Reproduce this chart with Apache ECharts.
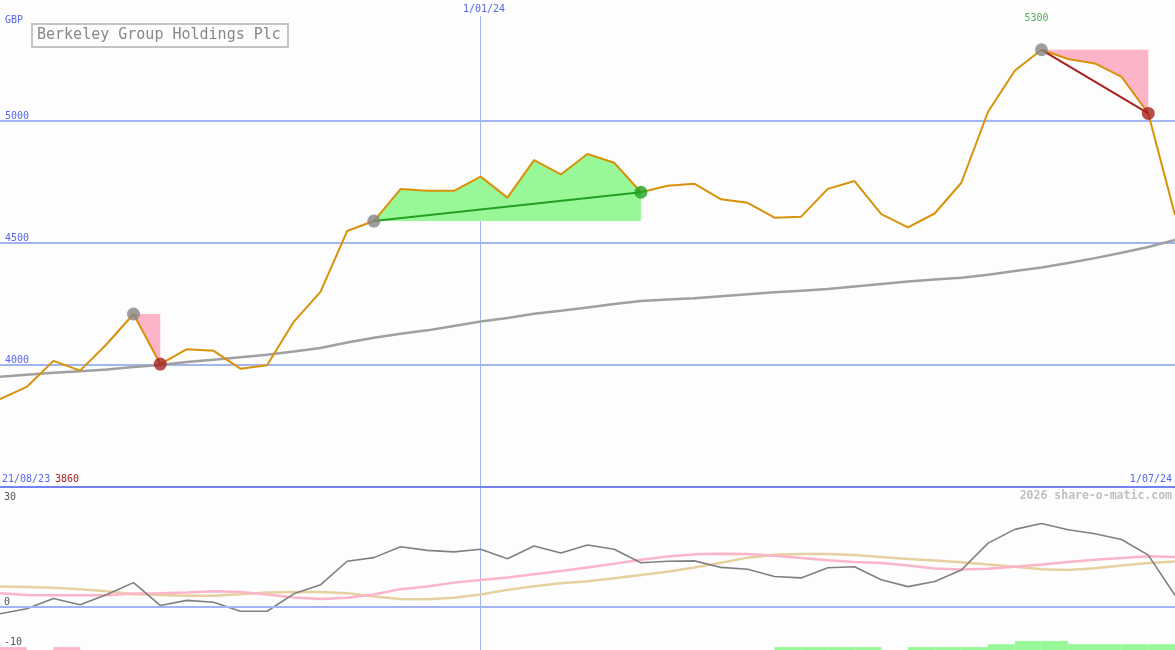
<!DOCTYPE html>
<html>
<head>
<meta charset="utf-8">
<script src="https://cdn.jsdelivr.net/npm/echarts@6/dist/echarts.min.js"></script>
<style>
html,body{margin:0;padding:0;background:#fcfdfc;}
#chart{width:1175px;height:650px;}
</style>
</head>
<body>
<div id="chart"></div>
<script>
const titleText = 'Berkeley Group Holdings Plc';
const currencyLabel = 'GBP';
const startLabel = '21/08/23';
const lowLabel = '3860';
const highLabel = '5300';
const watermark = '2026 share-o-matic.com';

const categories = ['28/08/23','4/09/23','11/09/23','18/09/23','25/09/23','2/10/23','9/10/23','16/10/23','23/10/23','30/10/23',
  '6/11/23','13/11/23','20/11/23','27/11/23','4/12/23','11/12/23','18/12/23','25/12/23','1/01/24','8/01/24',
  '15/01/24','22/01/24','29/01/24','5/02/24','12/02/24','19/02/24','26/02/24','4/03/24','11/03/24','18/03/24',
  '25/03/24','1/04/24','8/04/24','15/04/24','22/04/24','29/04/24','6/05/24','13/05/24','20/05/24','27/05/24',
  '3/06/24','10/06/24','17/06/24','24/06/24','1/07/24'];

const price = [3860,3910,4017,3977,4086,4209,4004,4065,4058,3985,
  3999,4177,4300,4549,4590,4721,4714,4714,4772,4686,
  4840,4781,4865,4829,4708,4735,4743,4679,4665,4604,
  4608,4722,4754,4618,4564,4621,4747,5038,5206,5292,
  5254,5236,5181,5031,4615];

const movingAvg = [3952,3960,3968,3974,3982,3992,4000,4012,4022,4032,
  4042,4055,4070,4092,4112,4128,4142,4160,4178,4193,
  4210,4222,4236,4250,4262,4268,4274,4282,4290,4298,
  4304,4312,4322,4332,4342,4350,4358,4370,4385,4400,
  4418,4438,4460,4484,4512];

const momentum = [-2.0,-0.6,2.2,0.5,3.3,6.6,0.3,1.7,1.2,-1.3,
  -1.3,3.5,6.0,12.5,13.5,16.5,15.5,15.1,15.8,13.2,
  16.7,14.8,17.0,15.8,12.1,12.5,12.6,10.8,10.3,8.3,
  7.9,10.7,11.0,7.4,5.5,6.9,10.1,17.5,21.3,22.9,
  21.2,20.1,18.5,14.2,3.1];

const signalPink = [3.7,3.2,3.1,3.1,3.1,3.6,3.7,3.9,4.2,4.0,
  3.3,2.5,2.1,2.4,3.3,4.8,5.5,6.6,7.3,8.0,
  8.9,9.8,10.8,11.8,12.9,13.8,14.4,14.6,14.5,14.0,
  13.4,12.8,12.3,12.0,11.3,10.5,10.2,10.4,11.0,11.6,
  12.3,12.9,13.4,13.9,13.7];

const signalTan = [5.5,5.4,5.2,4.8,4.2,3.4,3.2,3.0,3.0,3.4,
  3.9,4.0,4.0,3.7,2.8,2.1,2.0,2.4,3.3,4.6,
  5.6,6.4,7.0,7.8,8.7,9.6,10.8,12.1,13.5,14.3,
  14.5,14.5,14.2,13.7,13.1,12.7,12.2,11.6,11.0,10.3,
  10.1,10.6,11.3,12.0,12.4];

// one value per weekly interval (index i -> i+1); negative = pink, positive = green
const bandValues = [-0.8,0,-0.8,0,0,0,0,0,0,0,
  0,0,0,0,0,0,0,0,0,0,
  0,0,0,0,0,0,0,0,0,0.8,
  0.8,0.8,0.8,0,0.8,0.8,0.8,1.6,2.5,2.5,
  1.6,1.6,1.6,1.6];

// swing highlights: [startIndex, endIndex, kind]
const swings = [[5,6,'fall'],[14,24,'rise'],[39,43,'fall']];
const grayPoints = [5,14,39];
const redPoints = [6,43];
const greenPoints = [24];
const priceLines = [4000,4500,5000];

const PINK = '#fbb4c8', LGREEN = '#98f898';
const FONT = 'DejaVu Sans Mono';
const BLUE_TXT = '#5566ee';
const BLUE_LINE = '#a4b4f0';

const MAIN_MIN = 3500, MAIN_MAX = 5496;
const LOW_MIN = -12, LOW_MAX = 33;

function fillSeries(s, e, kind) {
  return {
    type: 'custom', xAxisIndex: 0, yAxisIndex: 0, z: 1, silent: true, clip: false,
    data: [[s, e]],
    renderItem: function (params, api) {
      const lvl = price[s];
      const pts = [];
      for (let i = s; i <= e; i++) pts.push(api.coord([i, price[i]]));
      pts.push(api.coord([e, lvl]));
      pts.push(api.coord([s, lvl]));
      return { type: 'polygon', shape: { points: pts }, style: { fill: kind === 'rise' ? LGREEN : PINK } };
    }
  };
}

const series = [];
swings.forEach(sw => series.push(fillSeries(sw[0], sw[1], sw[2])));

series.push({
  type: 'line', xAxisIndex: 0, yAxisIndex: 0, z: 2, data: movingAvg, symbol: 'none',
  lineStyle: { color: '#a0a0a0', width: 2.5 }, silent: true
});
series.push({
  type: 'line', xAxisIndex: 0, yAxisIndex: 0, z: 3, data: price, symbol: 'none',
  lineStyle: { color: '#d8920a', width: 2 }, silent: true,
  markLine: {
    silent: true, symbol: 'none', label: { show: false }, z: 0,
    lineStyle: { color: BLUE_LINE, width: 2, type: 'solid' },
    data: priceLines.map(v => ({ yAxis: v }))
  }
});
swings.forEach(sw => {
  if (sw[1] - sw[0] > 1) {
    series.push({
      type: 'line', xAxisIndex: 0, yAxisIndex: 0, z: 4, symbol: 'none', silent: true,
      data: [[sw[0], price[sw[0]]], [sw[1], price[sw[1]]]],
      lineStyle: { color: sw[2] === 'rise' ? '#22a022' : '#a82020', width: 2 }
    });
  }
});
series.push({
  type: 'scatter', xAxisIndex: 0, yAxisIndex: 0, z: 5, symbolSize: 13, silent: true,
  itemStyle: { color: '#848484' },
  data: grayPoints.map(i => ({
    value: [i, price[i]],
    label: i === 39 ? { show: true, formatter: highLabel, position: 'top', distance: 20, offset: [-5, 0],
      color: '#2a982a', fontFamily: FONT, fontSize: 10 } : { show: false }
  }))
});
series.push({
  type: 'scatter', xAxisIndex: 0, yAxisIndex: 0, z: 5, symbolSize: 13, silent: true,
  itemStyle: { color: '#a82020' }, data: redPoints.map(i => [i, price[i]])
});
series.push({
  type: 'scatter', xAxisIndex: 0, yAxisIndex: 0, z: 5, symbolSize: 13, silent: true,
  itemStyle: { color: '#22a022' }, data: greenPoints.map(i => [i, price[i]])
});

// lower panel
series.push({
  type: 'line', xAxisIndex: 1, yAxisIndex: 1, z: 2, data: signalTan, symbol: 'none', silent: true,
  lineStyle: { color: '#e6d0a0', width: 2.5 },
  markLine: {
    silent: true, symbol: 'none', label: { show: false },
    lineStyle: { color: BLUE_LINE, width: 2, type: 'solid' },
    data: [{ yAxis: 0 }]
  }
});
series.push({
  type: 'line', xAxisIndex: 1, yAxisIndex: 1, z: 2, data: signalPink, symbol: 'none', silent: true,
  lineStyle: { color: '#fbb4c8', width: 2.5 }
});
series.push({
  type: 'line', xAxisIndex: 1, yAxisIndex: 1, z: 3, data: momentum, symbol: 'none', silent: true,
  lineStyle: { color: '#808080', width: 1.6 }
});
series.push({
  type: 'custom', xAxisIndex: 1, yAxisIndex: 1, z: 2, silent: true, clip: false,
  data: bandValues.map((v, i) => [i, v]),
  renderItem: function (params, api) {
    const i = api.value(0), v = api.value(1);
    if (!v) return null;
    const p0 = api.coord([i, LOW_MIN]);
    const p1 = api.coord([i + 1, LOW_MIN + Math.abs(v)]);
    return { type: 'rect', shape: { x: p0[0], y: p1[1], width: p1[0] - p0[0], height: p0[1] - p1[1] },
      style: { fill: v < 0 ? PINK : LGREEN } };
  }
});

const vIdx = categories.indexOf('1/01/24');

const option = {
  backgroundColor: '#fcfdfc',
  animation: false,
  title: {
    text: titleText, left: 32, top: 24, padding: [4, 7, 4, 5],
    borderColor: '#c4c4c4', borderWidth: 2,
    textStyle: { color: '#888888', fontFamily: FONT, fontSize: 15, fontWeight: 'normal' }
  },
  grid: [
    { left: 0, right: 0, top: 0, height: 487 },
    { left: 0, right: 0, top: 487, height: 163 }
  ],
  xAxis: [
    { type: 'category', gridIndex: 0, data: categories, boundaryGap: false,
      axisLine: { show: true, lineStyle: { color: '#7282f0', width: 2 } },
      axisTick: { show: false }, axisLabel: { show: false },
      splitLine: { show: true, interval: (idx) => idx === vIdx, lineStyle: { color: BLUE_LINE, width: 1 } } },
    { type: 'category', gridIndex: 1, data: categories, boundaryGap: false,
      axisLine: { show: false }, axisTick: { show: false }, axisLabel: { show: false },
      splitLine: { show: true, interval: (idx) => idx === vIdx, lineStyle: { color: BLUE_LINE, width: 1 } } }
  ],
  yAxis: [
    { type: 'value', gridIndex: 0, min: MAIN_MIN, max: MAIN_MAX, interval: 500,
      axisLine: { show: false }, axisTick: { show: false }, splitLine: { show: false },
      axisLabel: { inside: true, margin: 5, verticalAlign: 'bottom', color: BLUE_TXT, fontFamily: FONT, fontSize: 10,
        showMaxLabel: false,
        formatter: v => priceLines.indexOf(v) >= 0 ? String(v) : '' } },
    { type: 'value', gridIndex: 1, min: LOW_MIN, max: LOW_MAX, interval: 1,
      axisLine: { show: false }, axisTick: { show: false }, splitLine: { show: false },
      axisLabel: { inside: true, margin: 4, verticalAlign: 'middle', color: '#555555', fontFamily: FONT, fontSize: 10,
        showMaxLabel: false, interval: 0,
        formatter: v => (v === 30 || v === -10) ? String(v) : (v === 0 ? '{z|0}' : ''),
        rich: { z: { padding: [0, 0, 9, 0], color: '#555555', fontFamily: FONT, fontSize: 10 } } } }
  ],
  graphic: [
    { type: 'rect', left: 455, top: 0, shape: { width: 56, height: 16 }, style: { fill: '#fcfdfc' }, z: 50 },
    { type: 'text', left: 463, top: 4, z: 51, style: { text: categories[vIdx], fill: BLUE_TXT, font: '10px "DejaVu Sans Mono"' } },
    { type: 'text', left: 5, top: 15, z: 51, style: { text: currencyLabel, fill: BLUE_TXT, font: '10px "DejaVu Sans Mono"' } },
    { type: 'text', left: 2, top: 474, z: 51, style: { text: startLabel, fill: BLUE_TXT, font: '10px "DejaVu Sans Mono"' } },
    { type: 'text', left: 55, top: 474, z: 51, style: { text: lowLabel, fill: '#a82020', font: '10px "DejaVu Sans Mono"' } },
    { type: 'text', right: 3, top: 474, z: 51, style: { text: categories[categories.length - 1], fill: BLUE_TXT, font: '10px "DejaVu Sans Mono"' } },
    { type: 'text', right: 3, top: 490, z: 51, style: { text: watermark, fill: '#c0c0c0', font: 'bold 11.5px "DejaVu Sans Mono"' } }
  ],
  series: series
};

const chart = echarts.init(document.getElementById('chart'), null, { renderer: 'canvas' });
chart.setOption(option);
</script>
</body>
</html>
